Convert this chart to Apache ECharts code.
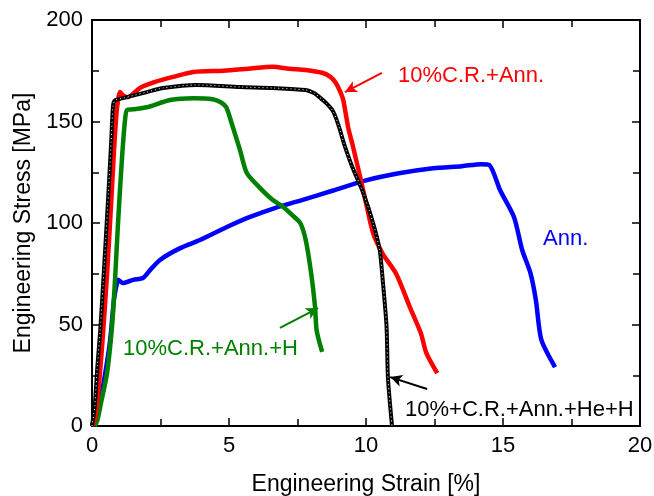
<!DOCTYPE html>
<html><head><meta charset="utf-8">
<script src="https://cdn.jsdelivr.net/npm/echarts@6/dist/echarts.min.js"></script>
<style>html,body{margin:0;padding:0;background:#fff}#c{width:654px;height:496px}</style>
</head><body><div id="c"></div>
<script>
const xTicks = [0, 5, 10, 15, 20];
const yTicks = [0, 50, 100, 150, 200];
const seriesNames = ['Ann.', '10%C.R.+Ann.+H', '10%C.R.+Ann.', '10%+C.R.+Ann.+He+H'];

const annData = [[0,0],[0.1,4.4],[0.3,12.8],[0.47,25],[0.66,42],[0.8,62],[0.91,70.4],[0.95,72],[1.13,70.4],[1.5,72],[1.86,72.9],[2.1,76.5],[2.48,81.8],[3.2,87.5],[3.94,91.6],[5.0,98.5],[5.77,103],[6.7,107.5],[7.6,111],[8.8,116],[10.0,121],[11.2,124.5],[12.45,127],[13.5,128],[14.2,129],[14.5,128.6],[14.9,116],[15.4,103],[15.7,86.7],[16.0,75.4],[16.2,62],[16.4,42.4],[16.9,29]];

const crAnnHData = [[0.1,0],[0.2,3],[0.35,12.8],[0.55,26],[0.73,49],[0.84,72],[0.95,100],[1.09,131],[1.2,150],[1.28,155.7],[1.5,156],[2.0,157],[2.85,160.6],[3.7,161.5],[4.4,161],[4.7,159.5],[4.9,157],[5.1,149],[5.4,136],[5.65,124.6],[6.1,117.7],[6.6,111.3],[6.97,108],[7.3,104],[7.6,100],[7.8,91.6],[8.0,75],[8.14,58.6],[8.2,47],[8.4,36.5]];

const crAnnData = [[0,0],[0.1,3],[0.25,20],[0.4,45],[0.55,75],[0.7,110],[0.8,135],[0.9,155],[0.97,162],[1.02,164.5],[1.12,163],[1.3,162],[1.75,166.5],[2.3,169.5],[2.96,172],[3.7,174.4],[4.8,175],[5.7,176],[6.6,177],[7.2,176],[7.8,175.4],[8.4,174],[8.7,172],[8.9,169],[9.05,165],[9.17,160.6],[9.35,147],[9.5,139],[9.78,123],[10.03,108],[10.26,95],[10.6,85],[11.1,75],[11.6,58.6],[12.0,45.8],[12.2,36],[12.6,26]];

const crAnnHeHData = [[0,0],[0.1,10],[0.2,30],[0.3,47],[0.45,80],[0.6,115],[0.7,140],[0.77,158],[0.85,160.5],[1.13,161.5],[2.0,164.5],[2.6,166.5],[3.8,168],[5.4,167],[6.6,166.5],[7.8,165.5],[8.1,164],[8.3,162],[8.55,159],[8.8,155],[9.0,148],[9.2,139],[9.5,127.6],[9.9,114.8],[10.26,100],[10.5,86.7],[10.6,73.4],[10.75,49],[10.8,24],[10.95,0]];

// arrow endpoints in data units [from, to]
const arrowRed = [[10.58,173.9],[9.23,164.5]];
const arrowGreen = [[6.86,48.3],[8.25,58.1]];
const arrowBlack = [[12.23,18.2],[10.88,24.1]];

const FONT = 'Liberation Sans';
function arrow(a, color) {
  return {
    silent: true, symbol: ['none','arrow'], symbolSize: [9, 12],
    lineStyle: {color: color, width: 2, type: 'solid'},
    label: {show: false},
    data: [[{coord: a[0]}, {coord: a[1]}]]
  };
}
function axisBase() {
  return {
    type: 'value',
    axisLine: {show: true, onZero: false, lineStyle: {color: '#000', width: 2}},
    axisTick: {show: true, inside: true, length: 8, lineStyle: {color: '#000', width: 1.5}},
    minorTick: {show: true, splitNumber: 2, length: 7, lineStyle: {color: '#000', width: 1.5}},
    splitLine: {show: false}
  };
}
const chart = echarts.init(document.getElementById('c'));
chart.setOption({
  animation: false,
  grid: {left: 92, right: 14, top: 20, bottom: 70, containLabel: false, outerBoundsMode: 'none'},
  xAxis: [
    Object.assign(axisBase(), {min: 0, max: 20, interval: 5, position: 'bottom',
      name: 'Engineering Strain [%]', nameLocation: 'middle', nameGap: 47,
      nameTextStyle: {fontFamily: FONT, fontSize: 23, color: '#000'},
      axisLabel: {fontFamily: FONT, fontSize: 22, color: '#000', margin: 9,
        formatter: v => xTicks.includes(v) ? String(v) : ''}}),
    Object.assign(axisBase(), {min: 0, max: 20, interval: 5, position: 'top', axisLabel: {show: false}})
  ],
  yAxis: [
    Object.assign(axisBase(), {min: 0, max: 200, interval: 50, position: 'left',
      name: 'Engineering Stress [MPa]', nameLocation: 'middle', nameGap: 52,
      nameTextStyle: {fontFamily: FONT, fontSize: 23, color: '#000'},
      axisLabel: {fontFamily: FONT, fontSize: 22, color: '#000', margin: 9,
        formatter: v => yTicks.includes(v) ? String(v) : ''}}),
    Object.assign(axisBase(), {min: 0, max: 200, interval: 50, position: 'right', axisLabel: {show: false}})
  ],
  series: [
    {name: seriesNames[0], type: 'line', data: annData, showSymbol: false, smooth: 0.25,
      lineStyle: {color: '#0000ff', width: 4.5}, z: 2},
    {name: seriesNames[1], type: 'line', data: crAnnHData, showSymbol: false, smooth: 0.25,
      lineStyle: {color: '#008000', width: 4.5}, z: 3, markLine: arrow(arrowGreen, '#008000')},
    {name: seriesNames[2], type: 'line', data: crAnnData, showSymbol: false, smooth: 0.25,
      lineStyle: {color: '#ff0000', width: 4.5}, z: 4, markLine: arrow(arrowRed, '#ff0000')},
    {name: seriesNames[3], type: 'line', data: crAnnHeHData, showSymbol: false, smooth: 0.25,
      lineStyle: {color: '#000', width: 4}, z: 5, markLine: arrow(arrowBlack, '#000')},
    {name: seriesNames[3] + ' core', type: 'line', data: crAnnHeHData, showSymbol: false, smooth: 0.25,
      lineStyle: {color: '#ffffff', width: 1, type: [1, 3]}, z: 6}
  ],
  graphic: [
    {type: 'text', x: 398, y: 76, style: {text: seriesNames[2], fill: '#ff0000', font: '22px ' + FONT, textVerticalAlign: 'middle'}},
    {type: 'text', x: 543, y: 239, style: {text: seriesNames[0], fill: '#0000ff', font: '22px ' + FONT, textVerticalAlign: 'middle'}},
    {type: 'text', x: 123, y: 349, style: {text: seriesNames[1], fill: '#008000', font: '22px ' + FONT, textVerticalAlign: 'middle'}},
    {type: 'text', x: 405, y: 410, style: {text: seriesNames[3], fill: '#000', font: '22px ' + FONT, textVerticalAlign: 'middle'}}
  ]
});
</script></body></html>
